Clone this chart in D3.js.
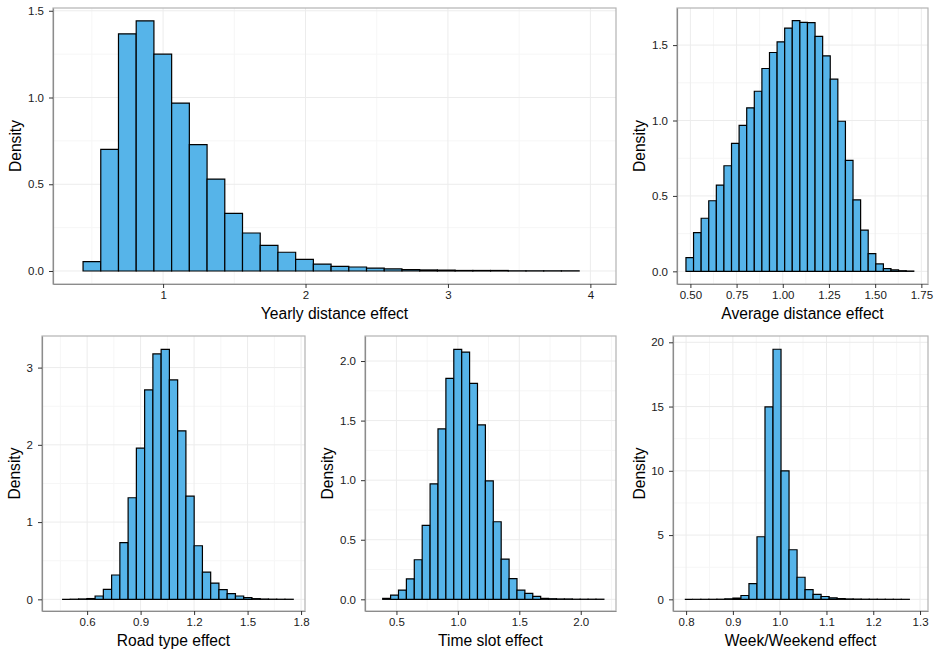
<!DOCTYPE html>
<html>
<head>
<meta charset="utf-8">
<script src="https://cdn.jsdelivr.net/npm/d3@7"></script>
<style>
  body { margin: 0; background: #ffffff; }
  svg { display: block; font-family: "Liberation Sans", Arial, sans-serif; }
</style>
</head>
<body>
<svg id="chart"></svg>
<script>
//--Data (density per bin)
//Yearly distance effect
var yearlyStart = 0.438, yearlyWidth = 0.1244;
var yearlyDensity = [0.054, 0.701, 1.367, 1.442, 1.250, 0.968, 0.728, 0.530, 0.332, 0.219,
  0.148, 0.108, 0.067, 0.040, 0.027, 0.023, 0.017, 0.012, 0.008, 0.006,
  0.005, 0.003, 0.003, 0.003, 0.001, 0.001, 0.001, 0.001];
var yearlyXTicks = [1, 2, 3, 4];
var yearlyYTicks = [0, 0.5, 1, 1.5];

//Average distance effect
var averageStart = 0.476, averageWidth = 0.0411;
var averageDensity = [0.091, 0.257, 0.352, 0.468, 0.572, 0.700, 0.849, 0.968, 1.084, 1.194,
  1.345, 1.451, 1.522, 1.613, 1.662, 1.651, 1.649, 1.558, 1.429, 1.274,
  0.995, 0.736, 0.474, 0.273, 0.117, 0.049, 0.018, 0.009, 0.004, 0.002];
var averageXTicks = [0.5, 0.75, 1, 1.25, 1.5, 1.75];
var averageYTicks = [0, 0.5, 1, 1.5];

//Road type effect
var roadStart = 0.4596, roadWidth = 0.0463;
var roadDensity = [0, 0.002, 0.005, 0.010, 0.043, 0.129, 0.315, 0.733, 1.315, 1.957,
  2.711, 3.177, 3.237, 2.841, 2.181, 1.336, 0.694, 0.353, 0.211, 0.125,
  0.073, 0.043, 0.022, 0.009, 0.004, 0.002, 0.001, 0.001];
var roadXTicks = [0.6, 0.9, 1.2, 1.5, 1.8];
var roadYTicks = [0, 1, 2, 3];

//Time slot effect
var slotStart = 0.388, slotWidth = 0.0643;
var slotDensity = [0.008, 0.036, 0.078, 0.172, 0.332, 0.620, 0.969, 1.430, 1.855, 2.098,
  2.075, 1.813, 1.464, 0.994, 0.651, 0.338, 0.173, 0.078, 0.050, 0.025,
  0.008, 0.005, 0.003, 0.003, 0.001, 0.001, 0.001, 0.001];
var slotXTicks = [0.5, 1, 1.5, 2];
var slotYTicks = [0, 0.5, 1, 1.5, 2];

//Week/Weekend effect
var weekStart = 0.7972, weekWidth = 0.01714;
var weekDensity = [0, 0.001, 0.002, 0.004, 0.010, 0.04, 0.10, 0.30, 1.22, 4.87,
  14.97, 19.46, 10.0, 3.86, 1.72, 0.75, 0.38, 0.22, 0.12, 0.06,
  0.03, 0.02, 0.01, 0.008, 0.005, 0.003, 0.002, 0.001];
var weekXTicks = [0.8, 0.9, 1.0, 1.1, 1.2, 1.3];
var weekYTicks = [0, 5, 10, 15, 20];

//--Layout
var canvas = { width: 937, height: 653, fill: "#56B4E9" };

var panels = [
  { title: "Yearly distance effect", start: yearlyStart, width: yearlyWidth, density: yearlyDensity,
    xTicks: yearlyXTicks, yTicks: yearlyYTicks, xFmt: d3.format("d"), yFmt: d3.format(".1f"),
    box: [53, 8, 616, 284], xDom: [0.227, 4.18], yDom: [-0.075, 1.516] },
  { title: "Average distance effect", start: averageStart, width: averageWidth, density: averageDensity,
    xTicks: averageXTicks, yTicks: averageYTicks, xFmt: d3.format(".2f"), yFmt: d3.format(".1f"),
    box: [677, 8, 928, 284], xDom: [0.4275, 1.786], yDom: [-0.084, 1.746] },
  { title: "Road type effect", start: roadStart, width: roadWidth, density: roadDensity,
    xTicks: roadXTicks, yTicks: roadYTicks, xFmt: d3.format(".1f"), yFmt: d3.format("d"),
    box: [42, 336, 305, 611], xDom: [0.347, 1.822], yDom: [-0.151, 3.409] },
  { title: "Time slot effect", start: slotStart, width: slotWidth, density: slotDensity,
    xTicks: slotXTicks, yTicks: slotYTicks, xFmt: d3.format(".1f"), yFmt: d3.format(".1f"),
    box: [365, 336, 616, 611], xDom: [0.244, 2.287], yDom: [-0.098, 2.21] },
  { title: "Week/Weekend effect", start: weekStart, width: weekWidth, density: weekDensity,
    xTicks: weekXTicks, yTicks: weekYTicks, xFmt: d3.format(".1f"), yFmt: d3.format("d"),
    box: [673, 336, 928, 611], xDom: [0.772, 1.317], yDom: [-0.907, 20.49] }
];

let root = d3.select("#chart")
  .attr("width", canvas.width)
  .attr("height", canvas.height);

//minor breaks: midpoints between majors, plus one step outside if it fits
function minorBreaks(ticks, dom) {
  let step = ticks[1] - ticks[0];
  let out = [];
  for (let v = ticks[0] - step / 2; v <= dom[1]; v += step) {
    if (v >= dom[0]) out.push(v);
  }
  return out;
}

panels.forEach(p => {
  let [x0, y0, x1, y1] = p.box;
  let x = d3.scaleLinear().domain(p.xDom).range([x0, x1]);
  let y = d3.scaleLinear().domain(p.yDom).range([y1, y0]);
  let g = root.append("g");

  //Grid
  let grid = g.append("g").attr("fill", "none");
  grid.selectAll(".mx").data(minorBreaks(p.xTicks, p.xDom)).enter().append("line")
    .attr("x1", d => x(d)).attr("x2", d => x(d)).attr("y1", y0).attr("y2", y1)
    .attr("stroke", "#f6f6f6").attr("stroke-width", 1);
  grid.selectAll(".my").data(minorBreaks(p.yTicks, p.yDom)).enter().append("line")
    .attr("y1", d => y(d)).attr("y2", d => y(d)).attr("x1", x0).attr("x2", x1)
    .attr("stroke", "#f6f6f6").attr("stroke-width", 1);
  grid.selectAll(".Mx").data(p.xTicks).enter().append("line")
    .attr("x1", d => x(d)).attr("x2", d => x(d)).attr("y1", y0).attr("y2", y1)
    .attr("stroke", "#ececec").attr("stroke-width", 1);
  grid.selectAll(".My").data(p.yTicks).enter().append("line")
    .attr("y1", d => y(d)).attr("y2", d => y(d)).attr("x1", x0).attr("x2", x1)
    .attr("stroke", "#ececec").attr("stroke-width", 1);

  //Bars (paths so empty bins still draw as a flat outline)
  g.append("g").selectAll("path").data(p.density).enter().append("path")
    .attr("d", (d, i) => {
      let a = x(p.start + i * p.width), b = x(p.start + (i + 1) * p.width);
      return "M" + a + "," + y(0) + "V" + y(d) + "H" + b + "V" + y(0) + "Z";
    })
    .attr("fill", canvas.fill)
    .attr("stroke", "#000")
    .attr("stroke-width", 1.2)
    .attr("stroke-linejoin", "miter");

  //Panel border
  g.append("rect")
    .attr("x", x0).attr("y", y0).attr("width", x1 - x0).attr("height", y1 - y0)
    .attr("fill", "none").attr("stroke", "#b3b3b3").attr("stroke-width", 1.2);

  //Axes
  let ax = g.append("g").attr("transform", "translate(0," + y1 + ")")
    .call(d3.axisBottom(x).tickValues(p.xTicks).tickFormat(p.xFmt)
      .tickSize(4).tickSizeOuter(0).tickPadding(3));
  let ay = g.append("g").attr("transform", "translate(" + x0 + ",0)")
    .call(d3.axisLeft(y).tickValues(p.yTicks).tickFormat(p.yFmt)
      .tickSize(4).tickSizeOuter(0).tickPadding(5));
  [ax, ay].forEach(a => {
    a.select(".domain").attr("stroke", "#8c8c8c").attr("stroke-width", 1.2);
    a.selectAll(".tick line").attr("stroke", "#333").attr("stroke-width", 1);
    a.selectAll(".tick text").attr("fill", "#1a1a1a")
      .style("font-size", "11.5px").style("font-family", "'Liberation Sans', Arial, sans-serif");
  });

  //Titles
  g.append("text")
    .attr("x", (x0 + x1) / 2).attr("y", y1 + 34.5)
    .attr("text-anchor", "middle")
    .style("font-size", "15.6px").attr("fill", "#000")
    .text(p.title);
  let left = ay.node().getBBox().x + x0;
  g.append("text")
    .attr("transform", "translate(" + (left - 12) + "," + ((y0 + y1) / 2) + ") rotate(-90)")
    .attr("dy", "0.35em")
    .attr("text-anchor", "middle")
    .style("font-size", "15.6px").attr("fill", "#000")
    .text("Density");
});
</script>
</body>
</html>
